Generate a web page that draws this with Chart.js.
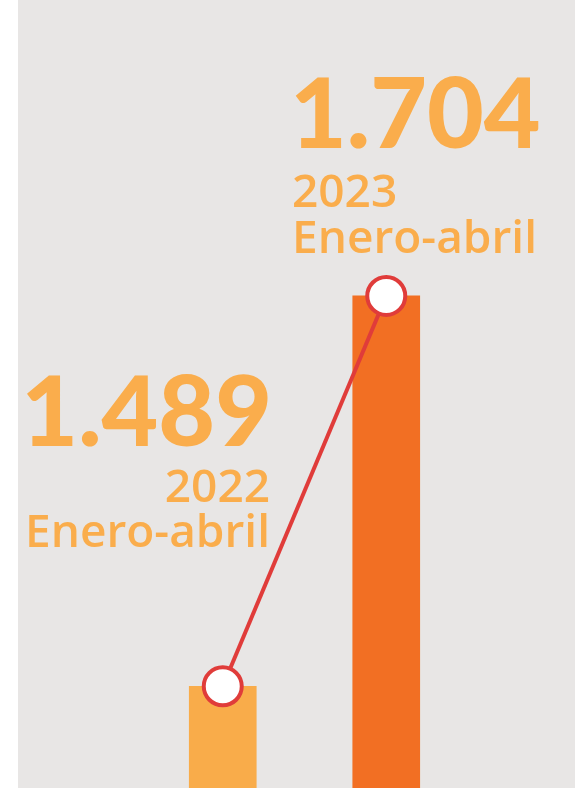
<!DOCTYPE html>
<html lang="es">
<head>
  <meta charset="UTF-8">
  <title>Enero-abril 2022 / 2023</title>
  <script src="https://cdn.jsdelivr.net/npm/chart.js"></script>
  <style>
    html, body {
      margin: 0;
      padding: 0;
      background: #ffffff;
      width: 575px;
      height: 788px;
      overflow: hidden;
    }
    #panel {
      position: absolute;
      left: 18px;
      top: 0;
      width: 557px;
      height: 788px;
      background: #e8e6e5;
    }
    .lbl {
      position: absolute;
      color: #faad4c;
      white-space: nowrap;
      line-height: 1;
    }
    .big {
      font-family: Lato, sans-serif;
      font-weight: 900;
      font-size: 98px;
      letter-spacing: 0px;
    }
    .small {
      font-family: "Open Sans", sans-serif;
      font-weight: 600;
      font-size: 46px;
    }
  </style>
</head>
<body>
  <div id="panel">
    <canvas id="chart"></canvas>
  </div>
  <div id="labels"></div>

  <script>
    const years = ['2022', '2023'];
    const periods = ['Enero-abril', 'Enero-abril'];
    const values = [1489, 1704];
    const valueLabels = ['1.489', '1.704'];
    const barColors = ['#f9ac4a', '#f26f23'];

    const ctx = document.getElementById('chart').getContext('2d');

    const chart = new Chart(ctx, {
      type: 'bar',
      data: {
        labels: years,
        datasets: [
          {
            type: 'line',
            data: values,
            borderColor: '#e03c3a',
            borderWidth: 4,
            pointRadius: 19,
            pointBorderWidth: 4,
            pointBackgroundColor: '#ffffff',
            pointBorderColor: '#e03c3a',
            order: 0,
            clip: false
          },
          {
            data: values,
            backgroundColor: barColors,
            barThickness: 67,
            order: 1
          }
        ]
      },
      options: {
        responsive: true,
        maintainAspectRatio: false,
        animation: false,
        layout: { autoPadding: false, padding: { left: 123, right: 107, top: 0, bottom: 0 } },
        scales: {
          x: { display: false },
          y: { display: false, min: 1433, max: 1867 }
        },
        plugins: {
          legend: { display: false },
          tooltip: { enabled: false }
        }
      }
    });

    // text blocks next to each bar
    const labelsDiv = document.getElementById('labels');
    function addText(txt, cls, style) {
      const d = document.createElement('div');
      d.className = 'lbl ' + cls;
      d.textContent = txt;
      Object.assign(d.style, style);
      labelsDiv.appendChild(d);
    }
    // 2022: right aligned near x=270
    addText(valueLabels[0], 'big', { right: (575 - 272) + 'px', top: '359px' });
    addText(years[0], 'small', { right: (575 - 270) + 'px', top: '461px' });
    addText(periods[0], 'small', { right: (575 - 270) + 'px', top: '506px' });
    // 2023: left aligned near x=293
    addText(valueLabels[1], 'big', { left: '290px', top: '61px' });
    addText(years[1], 'small', { left: '292px', top: '166px' });
    addText(periods[1], 'small', { left: '292px', top: '212px' });
  </script>
</body>
</html>
